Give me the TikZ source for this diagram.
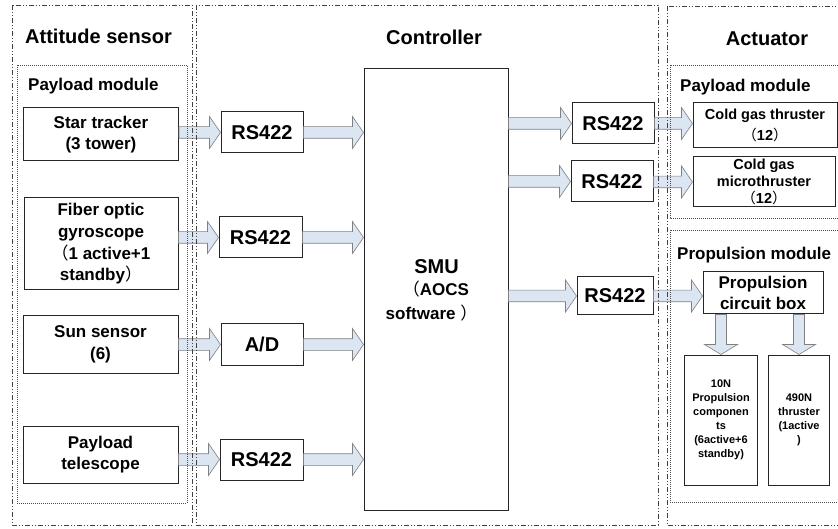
\documentclass[tikz,border=0pt]{standalone}
\usepackage{fontspec}
\setmainfont{Liberation Sans}
\newfontfamily\cjk{Noto Sans CJK SC}
\usetikzlibrary{calc}
\definecolor{arrowblue}{HTML}{DCE6F2}
\newcommand\lp{{\cjk\mdseries （}}
\newcommand\rp{{\cjk\mdseries ）}}
\newcommand\harrow[2]{%
  \path[blockarrow] let \p1=(#1.east |- #2), \p2=(#2.west) in
  (\x1,\y2+5.8pt) -- (\x2-11pt,\y2+5.8pt) -- (\x2-11pt,\y2+16pt) -- (\x2,\y2)
  -- (\x2-11pt,\y2-16pt) -- (\x2-11pt,\y2-5.8pt) -- (\x1,\y2-5.8pt) -- cycle;}
\newcommand\varrow[2]{%
  \path[blockarrow] let \p1=(#1.south -| #2), \p2=(#2.north) in
  (\x2-5.5pt,\y1) -- (\x2-5.5pt,\y2+10pt) -- (\x2-16.5pt,\y2+10pt) -- (\x2,\y2)
  -- (\x2+16.5pt,\y2+10pt) -- (\x2+5.5pt,\y2+10pt) -- (\x2+5.5pt,\y1) -- cycle;}
\tikzset{
  box/.style={draw=black!85, line width=1pt, align=center, inner sep=0pt, fill=white},
  grp/.style={draw=black!75, line width=0.7pt, dash pattern=on 5pt off 2pt on 1pt off 2pt on 1pt off 2pt},
  sub/.style={draw=black!70, line width=0.7pt, dash pattern=on 1pt off 1pt},
  blockarrow/.style={draw=black!50, line width=0.6pt, fill=arrowblue},
  ttl/.style={font=\fontsize{20}{24}\selectfont\bfseries, inner sep=0pt},
  mtl/.style={font=\fontsize{17}{20}\selectfont\bfseries, inner sep=0pt},
  f17/.style={font=\fontsize{17}{21.7}\selectfont\bfseries},
  f20/.style={font=\fontsize{20}{23}\selectfont\bfseries},
  f14/.style={font=\fontsize{14.5}{17}\selectfont\bfseries},
  f11/.style={font=\fontsize{11}{13.9}\selectfont\bfseries},
}
\begin{document}
\begin{tikzpicture}[x=1pt,y=-1pt]
\useasboundingbox (0,0) rectangle (838,529);
\clip (0,0) rectangle (838,529);
\fill[white] (0,0) rectangle (838,529);

% titles
\node[ttl, anchor=base west] (t1) at (25,44) {Attitude sensor};
\node[ttl, anchor=base] (t2) at (434,45) {Controller};
\node[ttl, anchor=base] (t3) at (767,46) {Actuator};
\node[mtl, anchor=base west] (m1) at (28,91) {Payload module};
\node[mtl, anchor=base west] (m2) at (680,92) {Payload module};
\node[mtl, anchor=base west] (m3) at (677,260) {Propulsion module};

% sensors
\node[box, f17, minimum width=155pt, minimum height=53pt] (star) at (101,134.5) {Star tracker\\(3 tower)};
\node[box, f17, minimum width=154pt, minimum height=92pt] (fog) at (101,244) {Fiber optic\\gyroscope\\\lp 1 active+1\\standby\rp};
\node[box, f17, minimum width=155pt, minimum height=57pt] (sun) at (100.5,344.5) {Sun sensor\\(6)};
\node[box, f17, minimum width=155pt, minimum height=57pt] (tel) at (100.5,454.5) {Payload\\telescope};

% interfaces
\node[box, f20, minimum width=82pt, minimum height=41pt] (rs1) at (262,132.5) {RS422};
\node[box, f20, minimum width=83pt, minimum height=41pt] (rs2) at (260.5,237.5) {RS422};
\node[box, f20, minimum width=82pt, minimum height=41pt] (ad) at (262,344.5) {A/D};
\node[box, f20, minimum width=83pt, minimum height=41pt] (rs4) at (261.5,459.5) {RS422};

% SMU
\node[box, minimum width=144pt, minimum height=441pt] (smu) at (436,289.5) {};
\node[f20, inner sep=0pt, anchor=base] (smut) at (436.5,273.5) {SMU};
\node[f17, inner sep=0pt, anchor=base] (smua) at (436,296) {\lp AOCS};
\node[f17, inner sep=0pt, anchor=base] (smus) at (431.5,319.5) {software \rp};

% output interfaces
\node[box, f20, minimum width=82pt, minimum height=41pt] (rsa) at (613,123.5) {RS422};
\node[box, f20, minimum width=82pt, minimum height=41pt] (rsb) at (612,181.5) {RS422};
\node[box, f20, minimum width=76pt, minimum height=38pt] (rsc) at (615,296) {RS422};

% actuators
\node[box, f14, minimum width=144pt, minimum height=45pt] (cgt) at (765,125.5) {Cold gas thruster\\[4.5pt]\lp 12\rp};
\node[box, f14, minimum width=142pt, minimum height=50pt] (cgm) at (764,182) {Cold gas\\microthruster\\\lp 12\rp};
\node[box, f17, minimum width=120pt, minimum height=42pt] (pcb) at (763,293) {Propulsion\\[-1pt]circuit box};
\node[box, f11, minimum width=73pt, minimum height=130pt] (n10) at (721,420) {10N\\Propulsion\\componen\\ts\\(6active+6\\standby)};
\node[box, f11, minimum width=61pt, minimum height=130pt] (n490) at (799,420) {490N\\thruster\\(1active\\)};

% arrows
\harrow{star}{rs1}
\harrow{fog}{rs2}
\harrow{sun}{ad}
\harrow{tel}{rs4}
\harrow{rs1}{smu.west |- rs1}
\harrow{rs2}{smu.west |- rs2}
\harrow{ad}{smu.west |- ad}
\harrow{rs4}{smu.west |- rs4}
\harrow{smu.east |- rsa}{rsa}
\harrow{smu.east |- rsb}{rsb}
\harrow{smu.east |- rsc}{rsc}
\harrow{rsa}{cgt.west |- rsa}
\harrow{rsb}{cgm}
\harrow{rsc}{pcb.west |- rsc}
\varrow{pcb}{n10}
\varrow{pcb}{n490}

% groups
\draw[grp] (12,5) rectangle (192,525);
\draw[grp] (196,5) rectangle (658,525);
\draw[grp] (667,6) rectangle (860,525);
\draw[sub] (17,65) rectangle (187,503);
\draw[sub] (670,65) rectangle (860,218);
\draw[sub] (670,230) rectangle (860,502);
\end{tikzpicture}
\end{document}
